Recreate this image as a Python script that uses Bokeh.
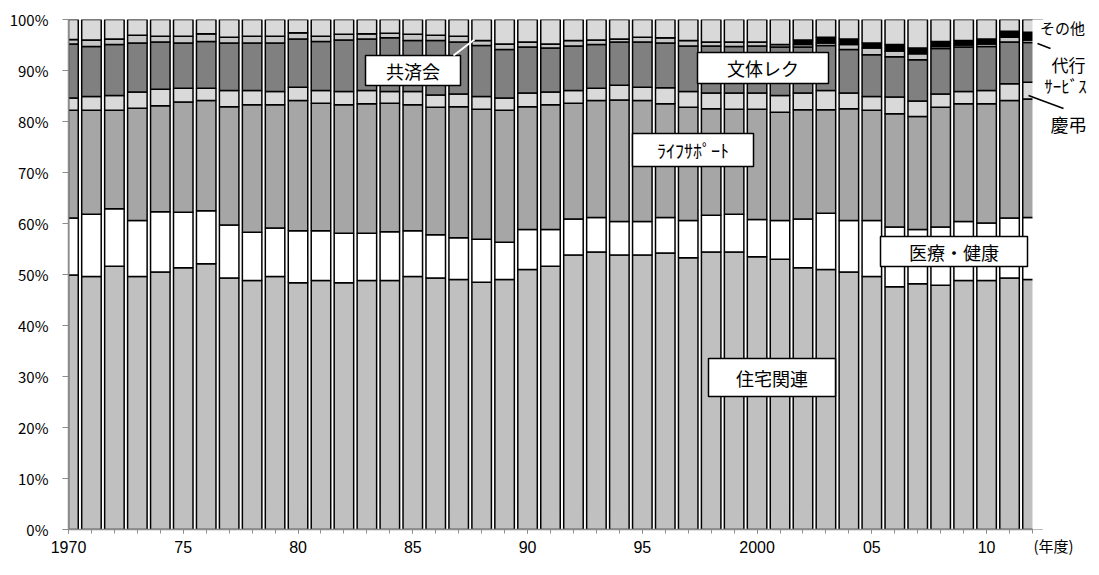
from bokeh.plotting import figure
from bokeh.models import Range1d, FixedTicker, Label, Arrow, ColumnDataSource, LinearAxis
from bokeh.embed import file_html
from bokeh.resources import INLINE

years = list(range(1970, 2013))

housing = [49.9, 49.6, 51.6, 49.6, 50.5, 51.3, 52.1, 49.3, 48.8, 49.6,
           48.4, 48.8, 48.4, 48.8, 48.8, 49.6, 49.3, 49.0, 48.5, 49.0,
           51.0, 51.6, 53.8, 54.4, 53.8, 53.8, 54.2, 53.3, 54.4, 54.4,
           53.5, 53.0, 51.3, 51.0, 50.5, 49.6, 47.6, 48.2, 47.9, 48.8,
           48.8, 49.3, 49.0]
medical = [11.2, 12.2, 11.3, 11.0, 11.8, 10.9, 10.4, 10.4, 9.5, 9.5,
           10.2, 9.8, 9.7, 9.3, 9.6, 9.0, 8.5, 8.2, 8.4, 7.3,
           7.8, 7.2, 7.1, 6.8, 6.6, 6.6, 7.0, 7.3, 7.2, 7.4,
           7.3, 7.6, 9.6, 11.0, 10.1, 11.0, 11.7, 10.6, 11.4, 11.6,
           11.3, 11.8, 12.2]
lifesupport = [21.1, 20.4, 19.3, 22.0, 20.8, 21.6, 21.6, 23.2, 25.0, 24.2,
               25.5, 25.0, 25.2, 25.4, 25.2, 24.7, 25.0, 25.7, 25.5, 25.9,
               24.1, 24.5, 22.7, 22.9, 23.8, 23.7, 22.3, 22.2, 20.9, 20.6,
               21.6, 21.2, 21.4, 20.3, 21.9, 21.6, 22.2, 22.2, 23.5, 23.1,
               23.4, 23.0, 23.2]
keicho = [2.4, 2.7, 2.9, 3.2, 3.2, 2.7, 2.4, 3.2, 2.8, 2.6,
          2.6, 2.5, 2.6, 2.6, 2.3, 2.6, 2.4, 2.5, 2.5, 2.4,
          2.7, 2.5, 2.5, 2.4, 2.9, 2.6, 3.1, 3.1, 3.1, 3.2,
          3.2, 3.3, 3.3, 3.8, 3.1, 2.7, 3.3, 3.0, 2.6, 2.4,
          2.6, 3.3, 3.3]
bunta = [10.6, 9.8, 10.0, 9.6, 9.3, 8.9, 9.2, 9.3, 9.3, 9.5,
         9.5, 9.6, 10.1, 10.1, 10.5, 10.0, 10.7, 10.2, 10.0, 9.5,
         9.0, 8.6, 8.7, 8.6, 8.5, 8.9, 8.8, 8.9, 9.2, 9.1,
         9.2, 9.5, 9.0, 8.8, 8.5, 8.2, 7.9, 8.1, 8.9, 8.7,
         8.6, 8.2, 7.8]
kyosai = [0.9, 1.3, 1.1, 1.5, 1.1, 1.3, 1.5, 1.1, 1.3, 1.3,
          1.2, 1.0, 1.1, 1.0, 0.9, 1.2, 1.0, 1.1, 1.0, 1.1,
          1.0, 0.8, 1.1, 0.9, 0.6, 0.9, 1.0, 1.1, 0.8, 0.9,
          0.8, 0.5, 0.5, 0.5, 1.0, 1.3, 1.1, 1.2, 0.4, 0.4,
          0.5, 0.9, 0.5]
daiko = [0.0] * 32 + [0.9, 1.1, 1.1, 1.0, 1.3, 1.1, 1.0, 0.9,
                      1.0, 1.2, 1.5]
other = [3.9, 4.0, 3.8, 3.1, 3.3, 3.3, 2.8, 3.5, 3.3, 3.3,
         2.6, 3.3, 2.9, 2.8, 2.7, 2.9, 3.1, 3.3, 4.1, 4.8,
         4.4, 4.8, 4.1, 4.0, 3.8, 3.5, 3.6, 4.1, 4.4, 4.4,
         4.4, 4.9, 4.0, 3.5, 3.8, 4.6, 4.9, 5.6, 4.3, 4.1,
         3.8, 2.3, 2.5]

series_names = ["住宅関連", "医療・健康", "ライフサポート", "慶弔", "文体レク",
                "共済会", "代行サービス", "その他"]
series_values = [housing, medical, lifesupport, keicho, bunta, kyosai, daiko, other]
series_colors = ["#C0C0C0", "#FFFFFF", "#A6A6A6", "#D9D9D9", "#808080",
                 "#C6C6C6", "#000000", "#D9D9D9"]

tick_years = [1970, 1975, 1980, 1985, 1990, 1995, 2000, 2005, 2010]
tick_labels = ["1970", "75", "80", "85", "90", "95", "2000", "05", "10"]
y_ticks = list(range(0, 101, 10))
y_labels = [f"{v}%" for v in y_ticks]

FONT = "Noto Sans CJK JP"
NUMFONT = "Liberation Sans"

W, H = 1089, 559
FL, FR, FT, FB = 68, 1032, 19, 529          # frame of the category axis (px)
PPY = (FR - FL) / (years[-1] - years[0])    # px per year


def X(px):
    return years[0] + (px - FL) / PPY


def Y(py):
    return (FB - py) / ((FB - FT) / 100.0)


p = figure(width=W, height=H, output_backend="svg", toolbar_location=None,
           x_range=Range1d(years[0], X(W)), y_range=Range1d(0, 100),
           min_border_left=FL, min_border_right=0, min_border_top=FT,
           min_border_bottom=H - FB)
p.outline_line_color = None
p.xgrid.grid_line_color = None
p.ygrid.grid_line_color = None
p.background_fill_color = "white"
p.border_fill_color = "white"

bottom = [0.0] * len(years)
for name, vals, col in zip(series_names, series_values, series_colors):
    top = [b + v for b, v in zip(bottom, vals)]
    src = ColumnDataSource(dict(x=years, bottom=bottom, top=top))
    p.vbar(x="x", bottom="bottom", top="top", width=0.85, source=src,
           fill_color=col, line_color="black", line_width=1.5)
    bottom = top

# plot area ends at the last year: blank out what lies right of it
p.quad(left=[years[-1]], right=[X(W) + 1], bottom=[-1], top=[101],
       fill_color="white", line_color=None)

# axes
for ax in (p.xaxis, p.yaxis):
    ax.axis_line_color = "#8C8C8C"
    ax.axis_line_width = 1.5
    ax.major_tick_line_color = "#8C8C8C"
    ax.minor_tick_line_color = "#8C8C8C"
    ax.major_tick_in = 0
    ax.minor_tick_in = 0
    ax.major_label_text_color = "black"

p.xaxis.bounds = (years[0], years[-1])
p.xaxis.ticker = FixedTicker(ticks=tick_years, minor_ticks=years)
p.xaxis.major_label_overrides = {t: l for t, l in zip(tick_years, tick_labels)}
p.xaxis.major_tick_out = 4
p.xaxis.minor_tick_out = 4
p.xaxis.major_label_standoff = 7
p.xaxis.major_label_text_font = NUMFONT
p.xaxis.major_label_text_font_size = "16px"

p.yaxis.ticker = FixedTicker(ticks=y_ticks)
p.yaxis.major_label_overrides = {t: l for t, l in zip(y_ticks, y_labels)}
p.yaxis.major_tick_out = 6
p.yaxis.minor_tick_line_color = None
p.yaxis.major_label_standoff = 14
p.yaxis.major_label_text_font = FONT
p.yaxis.major_label_text_font_size = "15px"

# unit label "(年度)" under the right end of the axis
unit_x = X(1053)
unit_axis = LinearAxis(ticker=FixedTicker(ticks=[unit_x]),
                       major_label_overrides={unit_x: "(年度)"},
                       axis_line_color=None, major_tick_line_color=None,
                       minor_tick_line_color=None, major_tick_out=0,
                       major_label_standoff=-21,
                       major_label_text_font=FONT,
                       major_label_text_font_size="15px",
                       major_label_text_color="black")
p.add_layout(unit_axis, "below")

# boxed labels (x0, x1, y0, y1 in picture pixels)
boxes = [
    ("共済会", 365, 460, 55, 85, "18px"),
    ("文体レク", 697, 828, 52, 83, "18px"),
    ("ﾗｲﾌｻﾎﾟｰﾄ", 632, 753, 133, 166, "18px"),
    ("医療・健康", 880, 1027, 236, 266, "18px"),
    ("住宅関連", 708, 835, 358, 396, "18px"),
]
for txt, x0, x1, y0, y1, fs in boxes:
    p.quad(left=[X(x0)], right=[X(x1)], bottom=[Y(y1)], top=[Y(y0)],
           fill_color="white", line_color="black", line_width=1.5)
    p.add_layout(Label(x=X((x0 + x1) / 2), y=Y((y0 + y1) / 2), text=txt,
                       text_align="center", text_baseline="middle",
                       text_font=FONT, text_font_size=fs,
                       text_color="black"))

# leader lines
p.add_layout(Arrow(end=None, x_start=X(453), y_start=Y(55), x_end=X(474), y_end=Y(39),
                   line_color="white", line_width=2))
p.add_layout(Arrow(end=None, x_start=X(1037), y_start=Y(43), x_end=X(1050), y_end=Y(48),
                   line_color="black", line_width=1.5))
p.add_layout(Arrow(end=None, x_start=X(1028), y_start=Y(95), x_end=X(1063), y_end=Y(108),
                   line_color="black", line_width=1.5))

# right-side labels
side = [
    ("その他", 1062, 27, "15px"),
    ("代行", 1068, 64, "17px"),
    ("ｻｰﾋﾞｽ", 1065, 85, "17px"),
    ("慶弔", 1068, 123, "18px"),
]
for txt, sx, sy, fs in side:
    p.add_layout(Label(x=X(sx), y=Y(sy), text=txt, text_align="center",
                       text_baseline="middle", text_font=FONT, text_font_size=fs,
                       text_color="black"))

open("out.html", "w").write(file_html(p, INLINE))
